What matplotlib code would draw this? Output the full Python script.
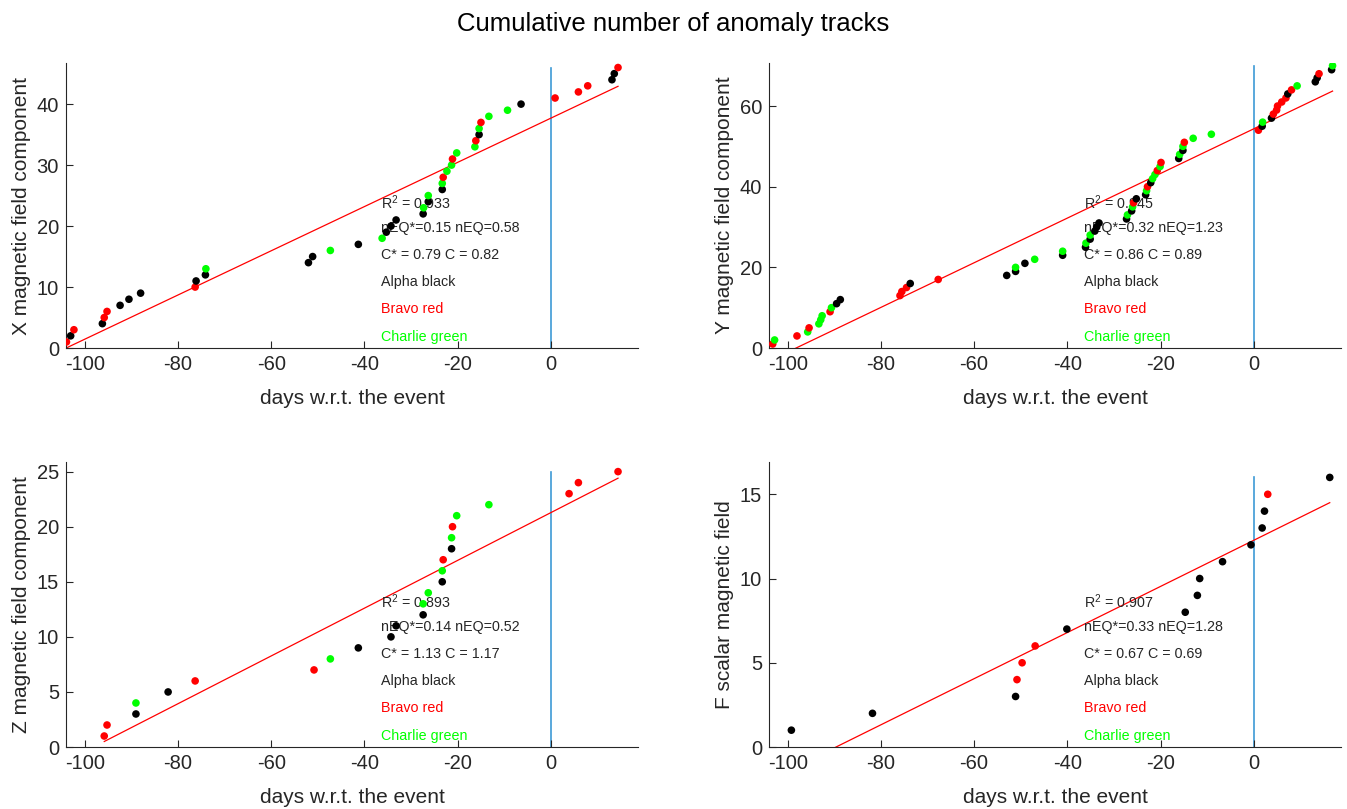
import numpy as np
import matplotlib
matplotlib.use("Agg")
import matplotlib.pyplot as plt

plt.rcParams['font.family'] = ['Liberation Sans', 'DejaVu Sans']
plt.rcParams['mathtext.default'] = 'regular'
plt.rcParams['axes.unicode_minus'] = False

# days w.r.t. the event of each anomaly track, in time order, and station colour
# k = Alpha, r = Bravo, g = Charlie
x_days = [-103.9, -103.0, -102.3, -96.2, -95.8, -95.2, -92.4, -90.5, -88.0, -76.3,
          -76.1, -74.1, -74.0, -52.0, -51.1, -47.3, -41.3, -36.2, -35.3, -34.3,
          -33.2, -27.4, -27.3, -26.3, -26.3, -23.3, -23.3, -23.1, -22.3, -21.3,
          -21.1, -20.2, -16.3, -16.1, -15.4, -15.4, -15.0, -13.3, -9.3, -6.4,
          0.9, 5.9, 7.9, 13.1, 13.6, 14.4]
x_cols = "rkrkrrkkkrkkgkkgkgkkkkgkgkgrggrggrkgrggkrrrkkr"

y_days = [-103.2, -102.8, -98.0, -95.7, -95.4, -93.3, -92.9, -92.6, -90.9, -90.6,
          -89.5, -88.7, -75.9, -75.5, -74.5, -73.7, -67.7, -53.0, -51.1, -51.1,
          -49.1, -47.0, -41.0, -41.0, -36.1, -36.0, -35.1, -35.1, -34.1, -33.7,
          -33.2, -27.3, -27.1, -26.2, -26.0, -25.8, -25.2, -23.2, -23.0, -22.8,
          -22.1, -21.7, -21.2, -20.7, -20.1, -19.9, -16.1, -15.9, -15.2, -15.2,
          -14.9, -13.0, -9.1, 1.0, 1.8, 1.9, 3.8, 4.2, 4.9, 5.1,
          6.0, 6.9, 7.3, 8.1, 9.3, 13.2, 13.6, 14.0, 16.7, 16.9]
y_cols = "rgrgrgggrgkkrrrkrkkgkgkgkgkgkkkkgkgrkkgrkggrgrkgkgrggrkgkrrrrrkrgkkrkg"

z_days = [-95.8, -95.2, -89.0, -89.0, -82.1, -76.3, -50.8, -47.3, -41.3, -34.3,
          -33.2, -27.4, -27.4, -26.3, -23.3, -23.3, -23.1, -21.3, -21.3, -21.1,
          -20.2, -13.3, 3.9, 5.9, 14.4]
z_cols = "rrkgkrrgkkkkggkgrkgrggrrr"

f_days = [-99.2, -81.8, -51.1, -50.8, -49.7, -46.9, -40.1, -14.7, -12.1, -11.6,
          -6.7, -0.6, 1.8, 2.3, 3.0, 16.3]
f_cols = "kkkrrrkkkkkkkkrk"

# linear fit: slope, intercept
fits = [(0.3626, 37.7), (0.5535, 54.35), (0.2169, 21.28), (0.1369, 12.27)]
r2 = ["0.933", "0.945", "0.893", "0.907"]
neq = [("0.15", "0.58"), ("0.32", "1.23"), ("0.14", "0.52"), ("0.33", "1.28")]
cc = [("0.79", "0.82"), ("0.86", "0.89"), ("1.13", "1.17"), ("0.67", "0.69")]

ylabels = ["X magnetic field component", "Y magnetic field component",
           "Z magnetic field component", "F scalar magnetic field"]
ytop = [46.7, 70.6, 25.85, 16.9]
ystep = [10, 20, 5, 5]

colmap = {'k': 'black', 'r': (1, 0, 0), 'g': (0, 1, 0)}
axcol = (0.15, 0.15, 0.15)

fig = plt.figure(figsize=(13.47, 8.09), dpi=100)
positions = [[0.049, 0.5698, 0.4247, 0.352], [0.5709, 0.5698, 0.4246, 0.352],
             [0.049, 0.0766, 0.4247, 0.352], [0.5709, 0.0766, 0.4246, 0.352]]

panels = [(x_days, x_cols), (y_days, y_cols), (z_days, z_cols), (f_days, f_cols)]

for i, (days, cols) in enumerate(panels):
    ax = fig.add_axes(positions[i])
    days = np.array(days)
    count = np.arange(1, len(days) + 1)
    ax.scatter(days, count, s=30, c=[colmap[c] for c in cols], edgecolors='none', zorder=4)
    m, b = fits[i]
    xx = np.array([days.min(), days.max()])
    ax.plot(xx, m * xx + b, color=(1, 0, 0), lw=0.9, zorder=2)
    ax.plot([0, 0], [0, len(days)], color='#3d9ad6', lw=1.2, zorder=1)

    ax.set_xlim(-104, 18.7)
    ax.set_ylim(0, ytop[i])
    ax.set_xticks(np.arange(-100, 1, 20))
    ax.set_yticks(np.arange(0, ytop[i], ystep[i]))
    ax.tick_params(direction='in', length=5, width=0.8, labelsize=14.5, colors=axcol, pad=5)
    for s in ['top', 'right']:
        ax.spines[s].set_visible(False)
    for s in ['left', 'bottom']:
        ax.spines[s].set_color(axcol)
        ax.spines[s].set_linewidth(0.8)
    ax.set_xlabel("days w.r.t. the event", fontsize=15, color=axcol, labelpad=11)
    ax.set_ylabel(ylabels[i], fontsize=15, color=axcol, labelpad=4)

    lines = ["R$^2$ = " + r2[i],
             "nEQ*=%s nEQ=%s" % neq[i],
             "C* = %s C = %s" % cc[i],
             "Alpha black", "Bravo red", "Charlie green"]
    tcols = [axcol, axcol, axcol, axcol, (1, 0, 0), (0, 1, 0)]
    ys = [0.511, 0.420, 0.326, 0.232, 0.136, 0.039]
    for t, c, yy in zip(lines, tcols, ys):
        ax.text(0.551, yy, t, transform=ax.transAxes, fontsize=10.3, color=c,
                va='center', ha='left', zorder=3)

fig.suptitle("Cumulative number of anomaly tracks", fontsize=18.5, y=0.985, color='black')
fig.savefig("out.png", dpi=100)
